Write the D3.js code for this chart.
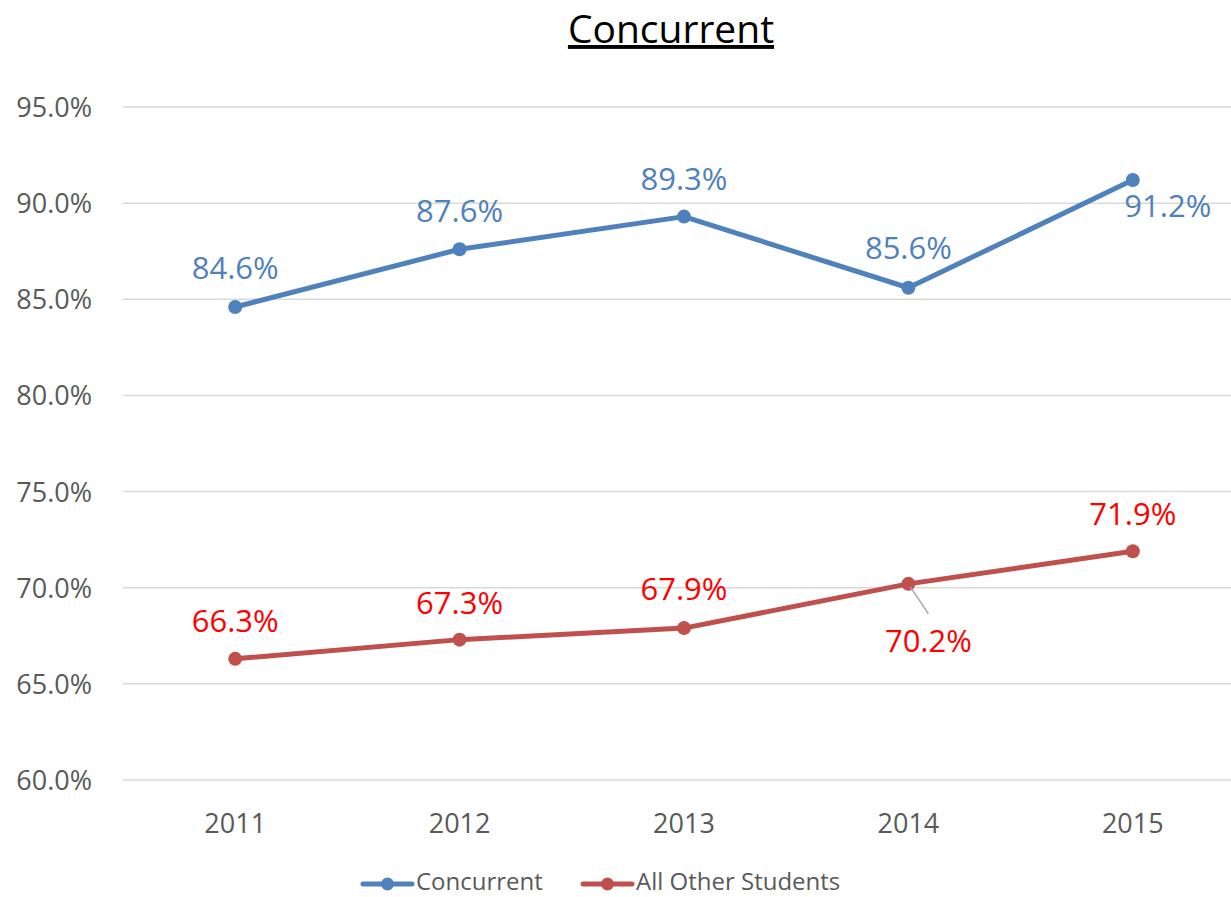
<!DOCTYPE html>
<html>
<head>
<meta charset="utf-8">
<script src="https://cdn.jsdelivr.net/npm/d3@7"></script>
<style>
  body { margin: 0; background: #fff; }
  svg { display: block; font-family: "Open Sans", "Noto Sans", sans-serif; }
</style>
</head>
<body>
<svg id="chart" width="1231" height="897"></svg>
<script>
// data
const years = ['2011', '2012', '2013', '2014', '2015'];
const concurrent = [84.6, 87.6, 89.3, 85.6, 91.2];
const otherStudents = [66.3, 67.3, 67.9, 70.2, 71.9];
const yTicks = [60, 65, 70, 75, 80, 85, 90, 95];

const W = 1231, H = 897;
const svg = d3.select('#chart');

const x = d3.scaleBand().domain(years).range([123, 1245]);
const y = d3.scaleLinear().domain([60, 95]).range([780, 107]);
const cx = d => x(d) + x.bandwidth() / 2;

const GRAY = '#595959', GRID = '#d9d9d9';

// title
svg.append('text')
  .attr('x', 671).attr('y', 43)
  .attr('text-anchor', 'middle')
  .attr('font-size', 39).attr('fill', '#000')
  .attr('text-decoration', 'underline')
  .text('Concurrent');

// grid + y labels
svg.append('g').selectAll('line').data(yTicks).join('line')
  .attr('x1', 123).attr('x2', W)
  .attr('y1', d => y(d)).attr('y2', d => y(d))
  .attr('stroke', GRID).attr('stroke-width', 1.5);

svg.append('g').selectAll('text').data(yTicks).join('text')
  .attr('x', 92).attr('y', d => y(d) + 10)
  .attr('text-anchor', 'end')
  .attr('font-size', 27).attr('fill', GRAY)
  .text(d => d.toFixed(1) + '%');

// x labels
svg.append('g').selectAll('text').data(years).join('text')
  .attr('x', d => cx(d)).attr('y', 833)
  .attr('text-anchor', 'middle')
  .attr('font-size', 27).attr('fill', GRAY)
  .text(d => d);

const series = [
  { name: 'Concurrent', vals: concurrent, color: '#4f81bd', label: '#4f81bd',
    // label offsets (dx, dy) relative to point
    off: [[0, -28], [0, -27], [0, -27], [0, -29], [35, 37]] },
  { name: 'All Other Students', vals: otherStudents, color: '#c0504d', label: '#ff0000',
    off: [[0, -27], [0, -26], [0, -28], [20, 68], [0, -26]] }
];

const line = d3.line().x(d => cx(d.year)).y(d => y(d.v));

series.forEach(s => {
  const pts = years.map((yr, i) => ({ year: yr, v: s.vals[i], off: s.off[i] }));
  const g = svg.append('g');
  g.append('path').datum(pts)
    .attr('d', line).attr('fill', 'none')
    .attr('stroke', s.color).attr('stroke-width', 5)
    .attr('stroke-linejoin', 'round').attr('stroke-linecap', 'round');
  g.selectAll('circle').data(pts).join('circle')
    .attr('cx', d => cx(d.year)).attr('cy', d => y(d.v)).attr('r', 7)
    .attr('fill', s.color);
  g.selectAll('text').data(pts).join('text')
    .attr('x', d => cx(d.year) + d.off[0])
    .attr('y', d => y(d.v) + d.off[1])
    .attr('text-anchor', 'middle')
    .attr('font-size', 31).attr('fill', s.label)
    .text(d => d.v.toFixed(1) + '%');
});

// leader line for the 2014 red label
svg.append('line')
  .attr('x1', cx('2014') + 2).attr('y1', y(otherStudents[3]) + 3)
  .attr('x2', cx('2014') + 20).attr('y2', y(otherStudents[3]) + 30)
  .attr('stroke', '#a6a6a6').attr('stroke-width', 1.5);

// legend
const legend = [
  { name: 'Concurrent', color: '#4f81bd', x0: 363, x1: 412, tx: 416 },
  { name: 'All Other Students', color: '#c0504d', x0: 583, x1: 632, tx: 636 }
];
const lg = svg.append('g');
legend.forEach(l => {
  lg.append('line').attr('x1', l.x0).attr('x2', l.x1).attr('y1', 884).attr('y2', 884)
    .attr('stroke', l.color).attr('stroke-width', 5).attr('stroke-linecap', 'round');
  lg.append('circle').attr('cx', (l.x0 + l.x1) / 2).attr('cy', 884).attr('r', 6.5).attr('fill', l.color);
  lg.append('text').attr('x', l.tx).attr('y', 890)
    .attr('font-size', 24).attr('fill', GRAY).text(l.name);
});
</script>
</body>
</html>
